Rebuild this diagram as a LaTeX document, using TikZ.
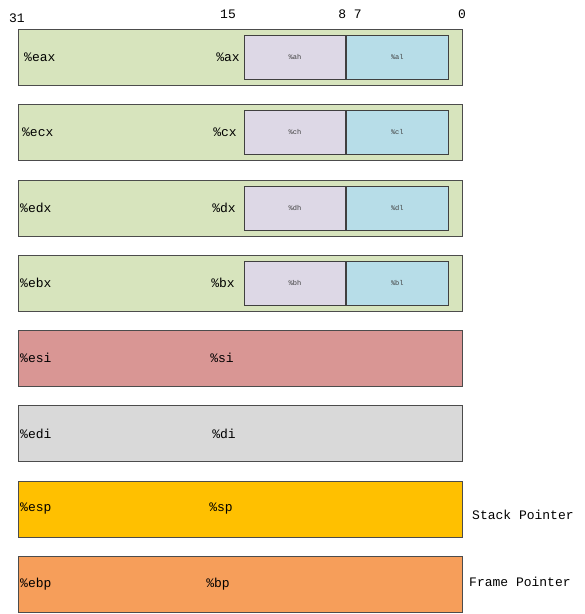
\documentclass[tikz,border=0pt]{standalone}
\usepackage{fontspec}
\setmonofont{Liberation Mono}
\usetikzlibrary{positioning}

\definecolor{regGreen}{RGB}{215,228,189}
\definecolor{regLilac}{RGB}{221,216,230}
\definecolor{regBlue}{RGB}{183,221,232}
\definecolor{regRed}{RGB}{217,150,148}
\definecolor{regGray}{RGB}{217,217,217}
\definecolor{regGold}{RGB}{255,192,0}
\definecolor{regOrange}{RGB}{246,158,90}

\tikzset{
    reg/.style={draw=black!70, line width=0.8pt, minimum width=444pt, minimum height=56pt, inner sep=0pt},
    half/.style={draw=black!75, line width=0.8pt, minimum width=101.5pt, minimum height=44pt, inner sep=0pt, font=\ttfamily\fontsize{7}{8}\selectfont, text=black!75},
    lbl/.style={inner sep=0pt, font=\ttfamily\fontsize{13}{15}\selectfont},
    bit/.style={inner sep=0pt, font=\ttfamily\fontsize{13}{15}\selectfont}
}

\begin{document}
\begin{tikzpicture}[x=1pt, y=-1pt]
    \useasboundingbox (0,0) rectangle (585,614);

    % bit positions
    \node[bit] (b31) at (17,18) {31};
    \node[bit] (b15) at (228,14) {15};
    \node[bit] (b87) at (350,14) {8 7};
    \node[bit] (b0) at (462,14) {0};

    % general purpose registers
    \node[reg, fill=regGreen] (eax) at (240,57) {};
    \node[reg, fill=regGreen] (ecx) at (240,132) {};
    \node[reg, fill=regGreen] (edx) at (240,208) {};
    \node[reg, fill=regGreen] (ebx) at (240,283) {};
    \node[reg, fill=regRed] (esi) at (240,358) {};
    \node[reg, fill=regGray] (edi) at (240,433.5) {};
    \node[reg, fill=regGold] (esp) at (240,509) {};
    \node[reg, fill=regOrange] (ebp) at (240,584) {};

    % high and low bytes
    \node[half, fill=regLilac] (ah) at (295,57) {\%ah};
    \node[half, fill=regBlue, right=0pt of ah] (al) {\%al};
    \node[half, fill=regLilac] (ch) at (295,132) {\%ch};
    \node[half, fill=regBlue, right=0pt of ch] (cl) {\%cl};
    \node[half, fill=regLilac] (dh) at (295,208) {\%dh};
    \node[half, fill=regBlue, right=0pt of dh] (dl) {\%dl};
    \node[half, fill=regLilac] (bh) at (295,283) {\%bh};
    \node[half, fill=regBlue, right=0pt of bh] (bl) {\%bl};

    % 32-bit names
    \node[lbl, anchor=west] (eaxname) at (24,57) {\%eax};
    \node[lbl, anchor=west] (ecxname) at (22,132) {\%ecx};
    \node[lbl, anchor=west] (edxname) at (20,208) {\%edx};
    \node[lbl, anchor=west] (ebxname) at (20,283) {\%ebx};
    \node[lbl, anchor=west] (esiname) at (20,358) {\%esi};
    \node[lbl, anchor=west] (ediname) at (20,433.5) {\%edi};
    \node[lbl, anchor=west] (espname) at (20,509) {\%esp};
    \node[lbl, anchor=west] (ebpname) at (20,584) {\%ebp};

    % 16-bit names
    \node[lbl, anchor=east] (axname) at (240,57) {\%ax};
    \node[lbl, anchor=east] (cxname) at (237,132) {\%cx};
    \node[lbl, anchor=east] (dxname) at (236,208) {\%dx};
    \node[lbl, anchor=east] (bxname) at (235,283) {\%bx};
    \node[lbl, anchor=east] (siname) at (234,358) {\%si};
    \node[lbl, anchor=east] (diname) at (236,433.5) {\%di};
    \node[lbl, anchor=east] (spname) at (233,509) {\%sp};
    \node[lbl, anchor=east] (bpname) at (230,584) {\%bp};

    \node[lbl, anchor=west] (spnote) at (472,515) {Stack Pointer};
    \node[lbl, anchor=west] (bpnote) at (469,582) {Frame Pointer};
\end{tikzpicture}
\end{document}
